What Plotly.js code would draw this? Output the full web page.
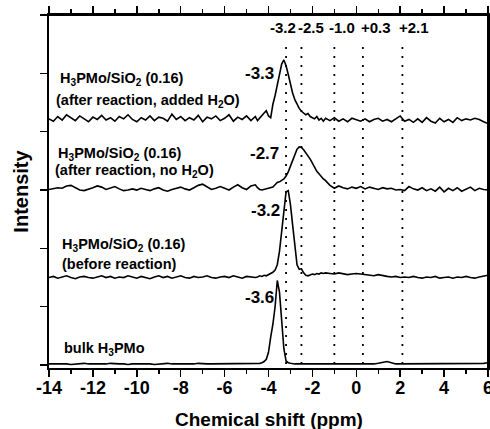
<!DOCTYPE html>
<html>
<head>
<meta charset="utf-8">
<script src="https://cdn.plot.ly/plotly-3.0.1.min.js"></script>
<style>html,body{margin:0;padding:0;background:#fff;}#chart{width:490px;height:429px;}</style>
</head>
<body>
<div id="chart"></div>
<script>
// Chemical shift grid (ppm)
const xShift = [
  -14,-13.8,-13.6,-13.4,-13.2,-13,-12.8,-12.6,-12.4,-12.2,
  -12,-11.8,-11.6,-11.4,-11.2,-11,-10.8,-10.6,-10.4,-10.2,
  -10,-9.8,-9.6,-9.4,-9.2,-9,-8.8,-8.6,-8.4,-8.2,
  -8,-7.8,-7.6,-7.4,-7.2,-7,-6.8,-6.6,-6.4,-6.2,
  -6,-5.8,-5.6,-5.4,-5.2,-5,-4.8,-4.6,
  -4.5,-4.4,-4.3,-4.2,-4.1,-4,-3.9,-3.8,-3.7,-3.6,
  -3.5,-3.4,-3.3,-3.2,-3.1,-3,-2.9,-2.8,-2.7,-2.6,
  -2.5,-2.4,-2.3,-2.2,-2.1,-2,-1.9,-1.8,-1.7,-1.6,
  -1.5,-1.4,-1.2,-1,-0.8,-0.6,-0.4,-0.2,0,0.2,
  0.4,0.6,0.8,1,1.2,1.4,1.6,1.8,2,2.2,
  2.4,2.6,2.8,3,3.2,3.4,3.6,3.8,4,4.2,
  4.4,4.6,4.8,5,5.2,5.4,5.6,5.8,6
];

// H3PMo/SiO2 (0.16) after reaction, added H2O (offset spectrum)
const yAddedH2O = [
  4.22,4.18,4.26,4.20,4.29,4.24,4.19,4.27,4.22,4.17,
  4.25,4.21,4.28,4.20,4.24,4.18,4.26,4.22,4.29,4.21,
  4.17,4.24,4.20,4.27,4.19,4.25,4.23,4.18,4.30,4.21,
  4.26,4.19,4.24,4.20,4.28,4.17,4.25,4.22,4.27,4.19,
  4.23,4.29,4.18,4.25,4.21,4.27,4.19,4.26,
  4.19,4.24,4.28,4.32,4.36,4.27,4.24,4.47,4.62,4.80,
  5.02,5.16,5.23,5.13,4.98,4.80,4.66,4.55,4.47,4.40,
  4.35,4.32,4.29,4.31,4.26,4.24,4.22,4.26,4.20,4.23,
  4.18,4.23,4.19,4.24,4.18,4.22,4.17,4.23,4.20,4.18,
  4.22,4.17,4.21,4.23,4.18,4.21,4.17,4.22,4.27,4.18,
  4.21,4.16,4.22,4.16,4.24,4.18,4.15,4.23,4.17,4.21,
  4.16,4.24,4.19,4.22,4.20,4.23,4.21,4.17,4.14
];

// H3PMo/SiO2 (0.16) after reaction, no H2O
const yNoH2O = [
  3.01,3.02,3.04,3.03,3.07,3.08,3.04,3.00,2.99,3.01,
  3.04,3.07,3.05,3.01,3.03,3.06,3.02,2.99,3.00,3.02,
  3.00,3.03,3.01,2.99,3.02,3.04,3.00,2.98,3.01,3.03,
  3.05,3.02,3.00,3.04,3.08,3.10,3.05,3.01,3.03,3.06,
  3.03,3.00,3.05,3.09,3.04,3.01,3.07,3.09,
  3.04,3.01,3.00,3.01,3.02,3.03,3.04,3.05,3.09,3.13,
  3.14,3.16,3.19,3.24,3.31,3.41,3.52,3.62,3.70,3.74,
  3.73,3.69,3.64,3.59,3.53,3.46,3.38,3.32,3.28,3.23,
  3.19,3.16,3.08,3.03,3.07,3.04,3.02,3.05,3.03,3.06,
  3.02,3.05,3.03,3.01,3.04,3.02,3.03,3.00,3.01,2.99,
  3.06,3.02,3.00,3.04,2.99,3.02,2.98,3.05,2.97,3.03,
  2.99,3.04,2.98,3.02,3.05,2.99,3.03,3.01,3.00
];

// H3PMo/SiO2 (0.16) before reaction
const yBefore = [
  1.50,1.52,1.49,1.51,1.53,1.50,1.48,1.51,1.52,1.50,
  1.49,1.51,1.53,1.50,1.52,1.49,1.51,1.50,1.53,1.51,
  1.49,1.52,1.50,1.48,1.51,1.53,1.50,1.52,1.49,1.51,
  1.53,1.50,1.49,1.52,1.50,1.51,1.53,1.50,1.49,1.51,
  1.52,1.50,1.53,1.51,1.49,1.52,1.51,1.50,
  1.51,1.53,1.52,1.54,1.53,1.55,1.56,1.59,1.63,1.72,
  1.95,2.32,2.68,2.97,2.99,2.75,2.40,2.00,1.72,1.64,
  1.65,1.58,1.54,1.53,1.55,1.56,1.55,1.57,1.56,1.58,
  1.57,1.58,1.57,1.56,1.58,1.57,1.55,1.56,1.57,1.56,
  1.55,1.54,1.53,1.55,1.53,1.52,1.51,1.52,1.50,1.51,
  1.50,1.52,1.50,1.49,1.51,1.50,1.52,1.49,1.50,1.51,
  1.49,1.51,1.50,1.52,1.50,1.49,1.51,1.53,1.54
];

// bulk H3PMo
const yBulk = [
  0.02,0.02,0.03,0.02,0.02,0.01,0.02,0.02,0.03,0.02,
  0.02,0.01,0.02,0.02,0.03,0.02,0.02,0.02,0.01,0.02,
  0.02,0.03,0.02,0.02,0.01,0.02,0.02,0.03,0.02,0.02,
  0.02,0.02,0.01,0.02,0.03,0.02,0.02,0.02,0.02,0.03,
  0.02,0.02,0.02,0.03,0.02,0.02,0.02,0.02,
  0.02,0.03,0.04,0.06,0.10,0.22,0.48,0.70,1.00,1.45,
  1.25,0.78,0.28,0.07,0.04,0.03,0.02,0.02,0.02,0.02,
  0.02,0.02,0.01,0.02,0.02,0.02,0.01,0.02,0.02,0.02,
  0.02,0.02,0.01,0.02,0.02,0.01,0.02,0.02,0.02,0.02,
  0.02,0.02,0.02,0.03,0.05,0.06,0.04,0.02,0.02,0.02,
  0.02,0.02,0.02,0.02,0.02,0.02,0.02,0.02,0.02,0.02,
  0.02,0.02,0.02,0.03,0.02,0.02,0.03,0.03,0.04
];

// Reference shifts (dotted lines) and their labels
const refShifts = [-3.2, -2.5, -1.0, 0.3, 2.1];
const refLabels = ['-3.2', '-2.5', '-1.0', '+0.3', '+2.1'];

// Peak labels
const peakLabels = ['-3.3', '-2.7', '-3.2', '-3.6'];

// Sample names (two lines each)
const sampleLine1 = ['H<sub>3</sub>PMo/SiO<sub>2</sub> (0.16)', 'H<sub>3</sub>PMo/SiO<sub>2</sub> (0.16)', 'H<sub>3</sub>PMo/SiO<sub>2</sub> (0.16)', 'bulk H<sub>3</sub>PMo'];
const sampleLine2 = ['(after reaction, added H<sub>2</sub>O)', '(after reaction, no H<sub>2</sub>O)', '(before reaction)', ''];

// Axis ticks and titles
const xTickVals = [-14, -12, -10, -8, -6, -4, -2, 0, 2, 4, 6];
const xTickText = ['-14', '-12', '-10', '-8', '-6', '-4', '-2', '0', '2', '4', '6'];
const xTitle = 'Chemical shift (ppm)';
const yTitle = 'Intensity';

const FONT = 'Liberation Sans, Arial, Helvetica, sans-serif';
const lineStyle = {color: '#000', width: 1.6};

const series = [yAddedH2O, yNoH2O, yBefore, yBulk];
const traces = series.map(ys => ({
  type: 'scatter', mode: 'lines', x: xShift, y: ys,
  line: lineStyle, hoverinfo: 'skip', showlegend: false
}));

// layout positions (data coordinates)
const refLabelX = [-3.32, -2.05, -0.64, 0.91, 2.64];
const refLabelY = 5.78;
const peakLabelPos = [[-4.41, 4.99], [-4.18, 3.62], [-4.14, 2.65], [-4.41, 1.15]];
const line1Pos = [[-13.59, 4.91], [-13.68, 3.61], [-13.5, 2.05], [-13.41, 0.27]];
const line2Pos = [[-13.77, 4.53], [-13.82, 3.33], [-13.5, 1.74]];

const annotations = [];
refLabels.forEach((t, i) => annotations.push({
  x: refLabelX[i], y: refLabelY, xref: 'x', yref: 'y', text: '<b>' + t + '</b>', showarrow: false,
  xanchor: 'center', yanchor: 'middle', font: {family: FONT, size: 15, color: '#000'}
}));
peakLabels.forEach((t, i) => annotations.push({
  x: peakLabelPos[i][0], y: peakLabelPos[i][1], xref: 'x', yref: 'y', text: '<b>' + t + '</b>', showarrow: false,
  xanchor: 'center', yanchor: 'middle', font: {family: FONT, size: 17, color: '#000'}
}));
sampleLine1.forEach((t, i) => annotations.push({
  x: line1Pos[i][0], y: line1Pos[i][1], xref: 'x', yref: 'y', text: '<b>' + t + '</b>', showarrow: false,
  xanchor: 'left', yanchor: 'middle', font: {family: FONT, size: 14.5, color: '#000'}
}));
sampleLine2.forEach((t, i) => { if (t) annotations.push({
  x: line2Pos[i][0], y: line2Pos[i][1], xref: 'x', yref: 'y', text: '<b>' + t + '</b>', showarrow: false,
  xanchor: 'left', yanchor: 'middle', font: {family: FONT, size: 14.5, color: '#000'}
}); });
annotations.push({
  x: 0.501, y: -0.145, xref: 'paper', yref: 'paper', text: '<b>' + xTitle + '</b>', showarrow: false,
  xanchor: 'center', yanchor: 'middle', font: {family: FONT, size: 19, color: '#000'}
});

const shapes = refShifts.map(v => ({
  type: 'line', xref: 'x', yref: 'y', x0: v, x1: v, y0: 5.45, y1: 0.0,
  line: {color: '#000', width: 1.8, dash: '2px,7px'}, layer: 'above'
}));
// closing frame lines along the top and right edges of the plot area
shapes.push({type: 'line', xref: 'paper', yref: 'paper', x0: 0, x1: 1, y0: 1, y1: 1, line: {color: '#000', width: 2}, layer: 'above'});
shapes.push({type: 'line', xref: 'paper', yref: 'paper', x0: 1, x1: 1, y0: 0, y1: 1, line: {color: '#000', width: 2}, layer: 'above'});

const layout = {
  width: 490, height: 429,
  margin: {l: 49, r: 2, t: 15, b: 61},
  paper_bgcolor: '#fff', plot_bgcolor: '#fff',
  showlegend: false,
  font: {family: FONT, color: '#000'},
  xaxis: {
    range: [-14, 6], tickmode: 'array', tickvals: xTickVals, ticktext: xTickText.map(t => '<b>' + t + '</b>'),
    ticks: 'outside', ticklen: 7, tickwidth: 1.5, tickcolor: '#000', mirror: 'ticks',
    showline: true, linewidth: 2, linecolor: '#000', showgrid: false, zeroline: false,
    ticklabeloverflow: 'allow', ticklabelstandoff: -5,
    tickfont: {family: FONT, size: 18, color: '#000'},
    minor: {tickmode: 'linear', tick0: -14, dtick: 1, ticks: 'outside', ticklen: 4, tickwidth: 1.5, tickcolor: '#000', showgrid: false}
  },
  yaxis: {
    range: [-0.05, 6], tickmode: 'linear', tick0: 0, dtick: 1,
    ticks: 'outside', ticklen: 7, tickwidth: 1.5, tickcolor: '#000', mirror: 'ticks',
    showticklabels: false, showline: true, linewidth: 2, linecolor: '#000', showgrid: false, zeroline: false,
    title: {text: '<b>' + yTitle + '</b>', font: {family: FONT, size: 20, color: '#000'}, standoff: 6}
  },
  annotations: annotations,
  shapes: shapes
};

Plotly.newPlot('chart', traces, layout, {staticPlot: true, displayModeBar: false});
</script>
</body>
</html>
